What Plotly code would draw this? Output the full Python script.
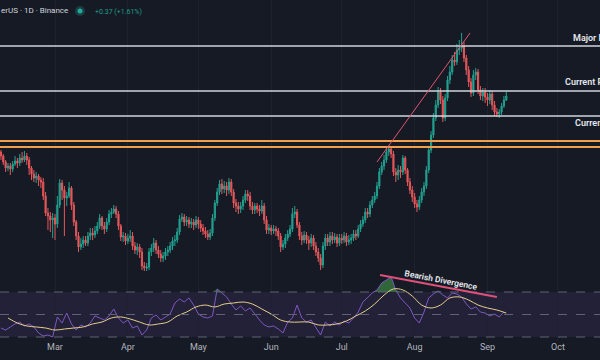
import pandas as pd
import plotly.graph_objects as go

# ---------------- data ----------------
start_date = "2024-02-07"
first_open = 24.8
closes = [24.4,23.8,23.2,23.4,23.1,23.6,23.9,23.7,24.2,24.0,24.4,24.0,23.2,22.6,22.2,22.4,22.0,21.8,20.4,18.7,
          18.4,18.0,18.2,17.6,19.5,21.7,21.0,20.2,20.4,21.2,19.5,17.8,16.4,15.3,15.6,16.0,15.7,16.4,16.7,16.5,
          16.9,17.4,18.2,17.4,17.1,17.8,18.6,18.8,19.1,18.6,17.4,16.3,16.4,15.9,16.2,16.4,15.4,15.0,15.3,14.8,
          13.4,13.2,13.3,14.8,15.2,15.7,15.0,14.6,14.2,14.4,14.8,15.0,15.4,15.9,16.0,16.8,18.1,18.3,17.8,18.0,
          17.6,17.8,17.5,18.0,17.6,17.2,16.9,16.6,16.3,16.7,18.2,19.7,20.8,21.6,21.1,21.4,21.0,21.8,20.8,19.7,
          19.4,19.1,19.4,20.0,20.6,20.4,19.4,19.0,19.4,19.1,18.9,19.4,18.0,17.0,17.2,16.9,17.1,16.9,16.4,15.3,
          15.6,16.2,16.6,17.1,18.6,18.8,17.5,16.4,16.0,16.5,16.0,15.7,16.2,15.4,14.8,14.2,13.5,15.4,16.2,15.8,
          16.4,16.0,16.3,15.7,16.2,16.0,16.4,15.8,16.0,16.2,16.6,16.4,17.1,17.6,18.0,18.8,18.6,19.5,20.0,20.4,
          21.4,22.8,23.4,24.0,24.8,25.1,24.6,22.8,22.5,23.0,22.8,24.2,23.0,21.8,21.0,20.3,19.6,19.3,20.0,20.8,
          21.4,23.0,25.0,26.5,28.2,29.5,30.8,30.0,28.2,30.2,32.0,32.8,34.0,33.8,35.0,35.2,35.4,34.2,33.0,31.8,
          30.7,32.5,32.8,31.0,30.4,30.8,30.3,30.0,30.6,29.5,28.8,28.6,28.8,29.4,30.0,30.4]
highs = [25.0,24.6,24.0,23.7,23.7,23.9,24.4,24.2,24.6,24.8,24.9,24.7,24.3,23.4,23.0,22.8,22.6,22.3,22.2,20.8,
         19.2,18.8,18.7,18.6,20.4,22.1,22.0,21.4,20.8,21.8,21.4,19.8,18.0,16.8,16.2,16.4,16.4,16.8,17.2,17.2,
         17.4,17.8,18.6,18.4,17.8,18.2,19.0,19.2,19.5,19.4,18.9,17.6,16.8,16.7,16.6,17.0,16.8,15.8,15.7,15.6,
         15.2,13.8,13.7,15.2,15.6,16.2,16.0,15.4,15.0,14.8,15.2,15.4,15.8,16.3,16.5,17.2,18.5,18.7,18.6,18.4,
         18.3,18.2,18.1,18.4,18.3,18.0,17.6,17.3,17.0,17.1,18.6,20.0,21.2,22.0,22.1,21.9,21.8,22.2,22.1,21.1,
         20.1,19.8,19.8,20.4,21.0,21.0,20.8,19.8,19.7,19.7,19.5,20.0,19.7,18.4,17.6,17.5,17.5,17.4,17.2,16.7,
         16.0,16.6,17.0,17.5,19.2,19.4,19.1,17.8,16.8,16.9,16.8,16.4,16.6,16.5,15.8,15.2,14.6,15.8,16.6,16.6,
         16.8,16.8,16.7,16.6,16.6,16.6,16.8,16.7,16.5,16.6,17.0,17.0,17.5,18.0,18.4,19.2,19.2,19.9,20.4,20.8,
         21.8,23.2,23.8,24.5,25.2,25.5,25.4,24.9,23.2,23.5,23.4,24.5,24.4,23.2,22.2,21.4,20.7,20.0,20.4,21.2,
         21.8,23.4,25.4,26.9,28.7,30.0,31.3,31.2,30.4,30.6,32.4,33.4,34.5,34.8,35.6,36.0,36.7,35.8,34.5,33.4,
         32.2,33.0,33.2,33.1,31.4,31.2,31.2,30.7,31.0,30.9,29.9,29.2,29.1,29.7,30.4,30.8]
lows = [24.0,23.5,22.8,22.9,22.5,22.8,23.4,23.2,23.4,23.7,23.8,23.5,22.5,22.0,21.8,21.7,21.4,21.2,20.0,18.4,
        17.0,16.8,16.2,16.0,17.2,19.2,20.0,16.4,19.4,20.2,19.0,17.4,16.0,14.8,15.0,15.2,15.4,15.4,16.0,16.0,
        16.2,16.6,17.1,17.0,16.6,16.8,17.5,18.2,18.6,18.2,17.0,15.9,15.8,15.5,15.6,15.8,15.0,14.6,14.5,14.2,
        13.0,12.9,12.9,13.0,14.4,14.8,14.6,14.2,13.8,13.8,14.0,14.4,14.7,15.0,15.4,15.7,16.5,17.8,17.4,17.4,
        17.2,17.2,17.0,17.2,17.1,16.8,16.5,16.2,16.0,16.0,16.4,17.9,19.4,20.5,20.6,20.7,20.4,20.6,20.4,19.2,
        18.8,18.6,18.7,19.0,19.7,19.9,19.0,18.6,18.6,18.7,18.4,18.6,17.6,16.6,16.6,16.5,16.6,16.4,16.0,14.8,
        15.0,15.2,15.9,16.3,16.8,18.2,17.2,16.0,15.5,15.7,15.6,15.0,15.3,15.0,14.4,13.8,13.0,13.2,15.0,15.4,
        15.4,15.6,15.7,15.3,15.4,15.6,15.7,15.4,15.5,15.6,15.9,16.0,16.2,16.8,17.3,17.7,18.2,18.3,19.2,19.7,
        20.1,21.1,22.5,23.0,23.7,24.4,24.2,22.4,21.8,22.0,22.2,22.5,22.6,21.4,20.6,19.8,19.2,18.8,19.0,19.7,
        20.4,21.1,22.7,24.7,26.2,27.9,29.2,29.6,27.8,27.9,29.9,31.6,32.5,33.4,33.5,34.5,34.8,33.8,32.5,31.3,
        30.3,30.4,32.0,30.6,30.0,29.9,29.7,29.4,29.6,29.0,28.4,28.3,28.2,28.5,29.2,29.9]

rsi_start = "2024-02-07"   # every 2 days
rsi_values = [38.0,36.2,38.9,41.6,43.3,39.8,41.6,38.9,33.6,30.9,31.8,30.0,47.8,42.4,51.3,41.6,36.2,40.7,38.9,42.4,
              48.7,46.9,45.1,48.7,54.9,46.9,42.4,45.1,38.0,39.8,31.8,36.2,46.9,49.6,45.1,47.8,50.4,60.2,63.8,61.1,
              64.7,58.4,50.4,47.8,46.9,48.7,72.7,69.1,65.6,59.3,54.0,57.6,53.1,55.8,50.4,45.1,40.7,38.9,39.8,37.1,
              33.6,43.3,46.9,58.4,46.9,43.3,45.1,38.9,31.8,43.3,39.8,43.3,40.7,44.2,42.4,46.9,52.2,61.1,64.7,69.1,
              71.8,78.0,80.7,83.3,71.8,64.7,60.2,55.8,46.9,42.4,52.2,64.7,68.2,70.9,67.3,64.7,69.1,68.2,65.6,59.3,
              54.9,56.7,52.2,51.3,48.7,50.4,47.8,52.2]
ma_start = "2024-02-10"    # every 4 days
rsi_ma_values = [46.9,42.4,39.8,38.9,38.0,36.2,37.1,38.0,38.9,41.6,43.3,46.9,47.8,46.0,43.3,40.7,41.6,43.3,48.7,52.2,
                 56.7,58.4,56.7,59.3,60.2,61.1,59.3,54.9,50.4,45.1,43.3,43.3,43.3,40.7,40.7,41.6,44.2,48.7,53.1,59.3,
                 67.3,72.7,71.8,66.4,58.4,55.8,58.4,64.7,65.6,62.9,58.4,55.8,54.0,51.3]

levels = {"Major Resistance": 35.4, "Current Resistance": 30.9, "Current Support": 28.4}
orange_zone = [25.9, 25.3]
trend_pts = (("2024-07-16", 23.8), ("2024-08-24 14:00", 36.7))
div_pts = (("2024-07-17 07:00", 85.1), ("2024-09-05", 65.6))
month_ticks = ["2024-03-01", "2024-04-01", "2024-05-01", "2024-06-01",
               "2024-07-01", "2024-08-01", "2024-09-01", "2024-10-01"]
month_labels = ["Mar", "Apr", "May", "Jun", "Jul", "Aug", "Sep", "Oct"]

# ---------------- figure ----------------
dates = pd.date_range(start_date, periods=len(closes), freq="D")
opens = [first_open] + closes[:-1]
rsi_dates = pd.date_range(rsi_start, periods=len(rsi_values), freq="2D")
ma_dates = pd.date_range(ma_start, periods=len(rsi_ma_values), freq="4D")

BG = "#161a25"
GRID = "#1d2130"
FONT = "Roboto"
fig = go.Figure()

fig.add_trace(go.Candlestick(
    x=dates, open=opens, high=highs, low=lows, close=closes,
    increasing=dict(line=dict(color="#22a08f", width=1), fillcolor="#22a08f"),
    decreasing=dict(line=dict(color="#e5575a", width=1), fillcolor="#e5575a"),
    xaxis="x", yaxis="y", showlegend=False, hoverinfo="skip"))

# overbought fill
ob = [max(v, 70) for v in rsi_values]
fig.add_trace(go.Scatter(x=rsi_dates, y=[70] * len(rsi_values), mode="lines",
                         line=dict(width=0, color="rgba(0,0,0,0)"), xaxis="x2", yaxis="y2",
                         showlegend=False, hoverinfo="skip"))
fig.add_trace(go.Scatter(x=rsi_dates, y=ob, mode="lines", fill="tonexty",
                         fillcolor="rgba(76,175,80,0.5)", line=dict(width=0, color="rgba(0,0,0,0)"),
                         xaxis="x2", yaxis="y2", showlegend=False, hoverinfo="skip"))
fig.add_trace(go.Scatter(x=rsi_dates, y=rsi_values, mode="lines",
                         line=dict(color="#7e57c2", width=1), xaxis="x2", yaxis="y2",
                         showlegend=False, hoverinfo="skip"))
fig.add_trace(go.Scatter(x=ma_dates, y=rsi_ma_values, mode="lines", line_shape="spline",
                         line=dict(color="#e8cf8a", width=1), xaxis="x2", yaxis="y2",
                         showlegend=False, hoverinfo="skip"))

shapes = []
# RSI band
shapes.append(dict(type="rect", xref="paper", yref="y2", x0=0, x1=1, y0=30, y1=70,
                   fillcolor="rgba(126,87,194,0.12)", line=dict(width=0), layer="below"))
for lv in (70, 50, 30):
    shapes.append(dict(type="line", xref="paper", yref="y2", x0=0, x1=1, y0=lv, y1=lv,
                       line=dict(color="#5f6272", width=1, dash="dash")))
# horizontal levels
for name, val in levels.items():
    shapes.append(dict(type="line", xref="paper", yref="y", x0=0, x1=1, y0=val, y1=val,
                       line=dict(color="#d1d4dc", width=1.5)))
for val in orange_zone:
    shapes.append(dict(type="line", xref="paper", yref="y", x0=0, x1=1, y0=val, y1=val,
                       line=dict(color="#f0a04b", width=2)))
# trend line
(tx0, ty0), (tx1, ty1) = trend_pts
shapes.append(dict(type="line", xref="x", yref="y", x0=tx0, y0=ty0, x1=tx1, y1=ty1,
                   line=dict(color="#e05570", width=1)))
(dx0, dy0), (dx1, dy1) = div_pts
shapes.append(dict(type="line", xref="x2", yref="y2", x0=dx0, y0=dy0, x1=dx1, y1=dy1,
                   line=dict(color="#e0507a", width=2)))
# header dot
shapes.append(dict(type="circle", xref="paper", yref="paper", x0=75 / 600, x1=85 / 600,
                   y0=(340 - 16) / 340, y1=(340 - 6) / 340, fillcolor="rgba(38,166,154,0.25)",
                   line=dict(width=0)))
shapes.append(dict(type="circle", xref="paper", yref="paper", x0=77.5 / 600, x1=82.5 / 600,
                   y0=(340 - 13.5) / 340, y1=(340 - 8.5) / 340, fillcolor="#26a69a",
                   line=dict(width=0)))

annotations = [
    dict(xref="paper", yref="paper", x=-0.002, y=(340 - 11) / 340, xanchor="left", yanchor="middle",
         text="erUS · 1D · Binance", showarrow=False, font=dict(family=FONT, size=8, color="#d1d4dc")),
    dict(xref="paper", yref="paper", x=93 / 600, y=(340 - 12) / 340, xanchor="left", yanchor="middle",
         text="+0.37 (+1.61%)", showarrow=False, font=dict(family=FONT, size=7, color="#1f9e8b")),
    dict(xref="x2", yref="y2", x="2024-08-12 05:00", y=80.7, text="Bearish Divergence",
         textangle=11, showarrow=False, font=dict(family=FONT, size=8.5, color="#e6e8ee", weight=600)),
]
label_pos = {"Major Resistance": (571, 36.2), "Current Resistance": (563, 31.8),
             "Current Support": (573, 27.7)}
for name, (px, py) in label_pos.items():
    annotations.append(dict(xref="paper", yref="y", x=px / 600, y=py, xanchor="left",
                            yanchor="middle", text=name, showarrow=False,
                            font=dict(family=FONT, size=9, color="#e6e8ee", weight=600)))

fig.update_layout(
    width=600, height=360, margin=dict(l=0, r=0, t=0, b=20),
    paper_bgcolor=BG, plot_bgcolor=BG,
    font=dict(family=FONT, color="#b2b5be"),
    shapes=shapes, annotations=annotations, showlegend=False,
    xaxis=dict(anchor="y", range=["2024-02-06 14:24", "2024-10-18 21:00"], showticklabels=False,
               tickvals=month_ticks, showgrid=True, gridcolor=GRID, zeroline=False,
               rangeslider=dict(visible=False), showline=False),
    xaxis2=dict(anchor="y2", matches="x", range=["2024-02-06 14:24", "2024-10-18 21:00"],
                tickvals=month_ticks, ticktext=month_labels, showgrid=True, gridcolor=GRID,
                tickfont=dict(size=9, color="#b2b5be"), ticks="", zeroline=False, showline=False),
    yaxis=dict(domain=[0.2, 1], range=[12.8, 40], showticklabels=False, showgrid=False,
               zeroline=False),
    yaxis2=dict(domain=[0, 0.2], range=[27.33, 87.78], showticklabels=False, showgrid=False,
                zeroline=False),
)

fig.write_html("out.html", config={"displayModeBar": False},
               post_script="document.body.style.margin='0';document.body.style.padding='0';"
                           "document.body.style.background='" + BG + "';")
